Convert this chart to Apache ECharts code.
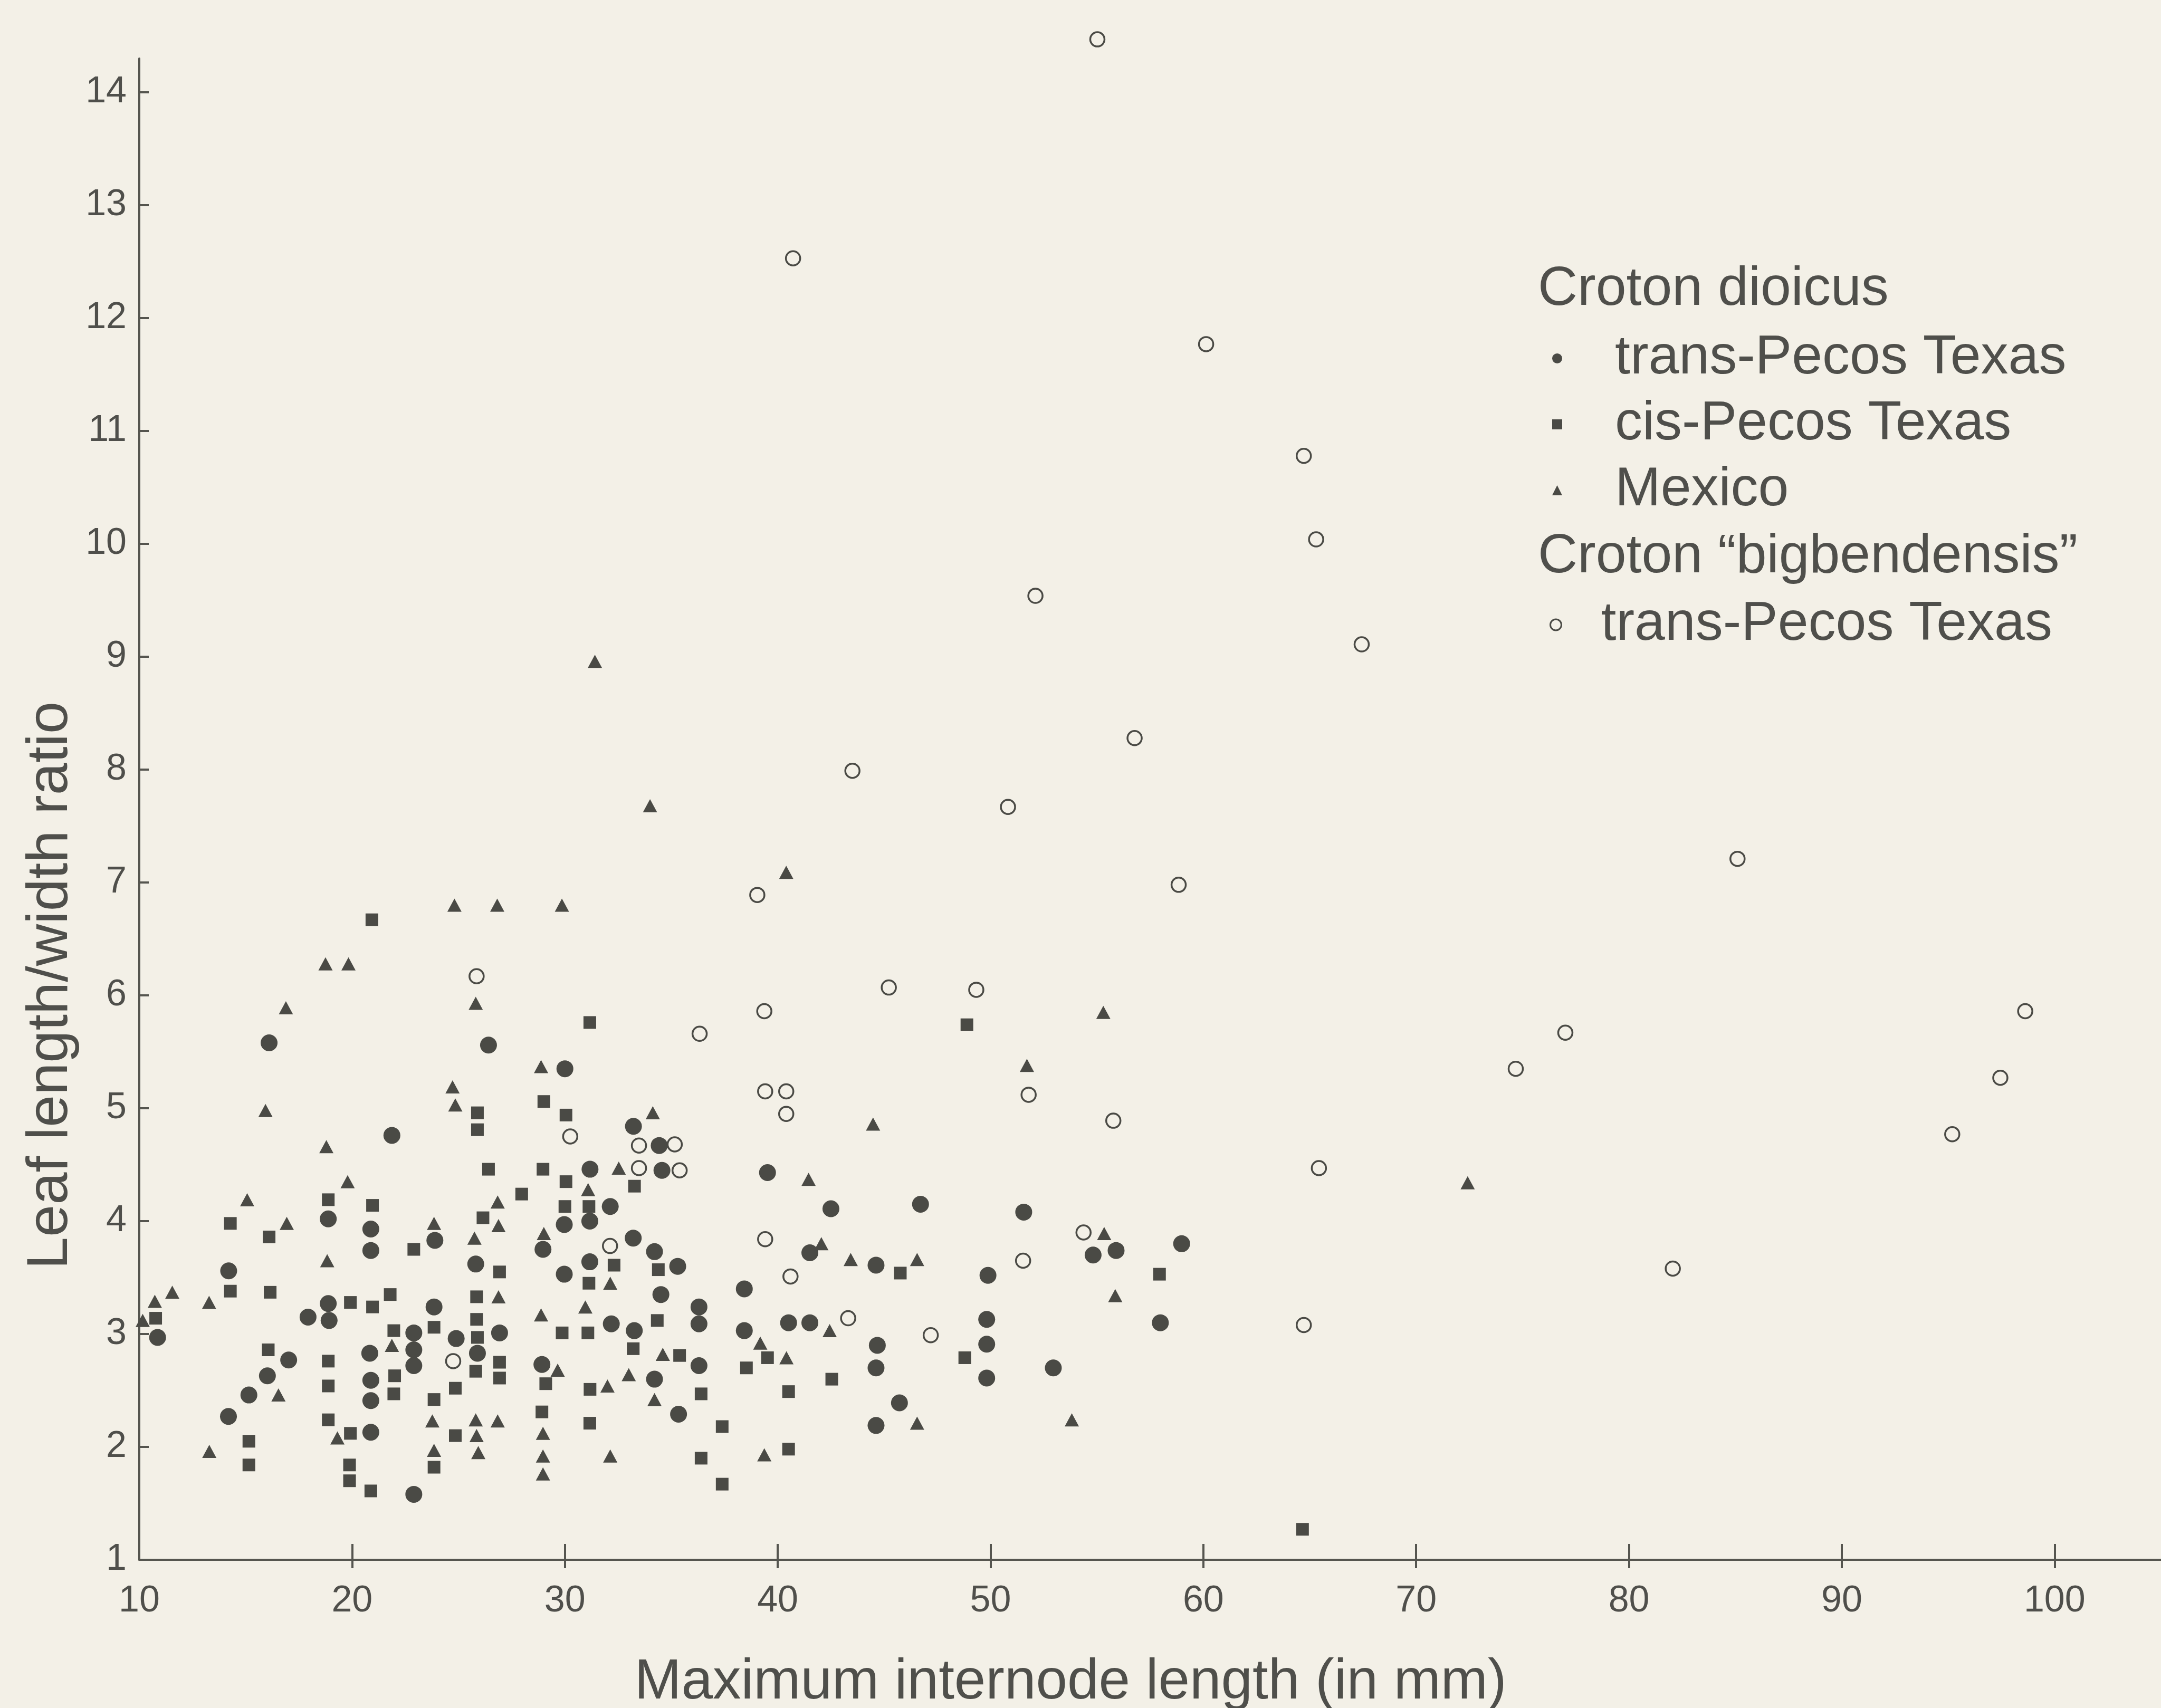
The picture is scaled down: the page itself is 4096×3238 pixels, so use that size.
<!DOCTYPE html>
<html><head><meta charset="utf-8">
<script src="https://cdn.jsdelivr.net/npm/echarts@6/dist/echarts.min.js"></script>
<style>html,body{margin:0;padding:0;background:#f3f0e7;}#c{width:4096px;height:3238px;}</style>
</head><body><div id="c"></div>
<script>
// ---- data ----
const xTicks = [10, 20, 30, 40, 50, 60, 70, 80, 90, 100];
const yTicks = [1, 2, 3, 4, 5, 6, 7, 8, 9, 10, 11, 12, 13, 14];
const xTitle = 'Maximum internode length (in mm)';
const yTitle = 'Leaf length/width ratio';
const groupHeaders = ['Croton dioicus', 'Croton \u201Cbigbendensis\u201D'];
const seriesNames = ['trans-Pecos Texas', 'cis-Pecos Texas', 'Mexico', 'trans-Pecos Texas '];

const dioicusTransPecos = [
 [16.10,5.58],[21.87,4.76],[18.88,4.02],[20.88,3.93],[20.88,3.74],[14.20,3.56],[10.86,2.97],[18.88,3.27],[17.93,3.15],[18.92,3.12],[17.02,2.77],[16.02,2.63],[20.83,2.83],[15.15,2.46],[20.88,2.59],[20.88,2.41],[14.19,2.27],[20.88,2.13],
 [26.41,5.56],[30.00,5.35],[33.22,4.84],[34.43,4.67],[34.56,4.45],[31.18,4.46],[32.13,4.13],
 [23.89,3.83],[28.97,3.75],[29.97,3.97],[31.17,4.00],[33.21,3.85],[34.21,3.73],[35.30,3.60],[31.17,3.64],[29.97,3.53],[25.81,3.62],[34.51,3.35],[23.85,3.24],[36.30,3.24],[36.30,3.09],[32.18,3.09],[26.93,3.01],[33.26,3.03],[22.90,3.01],[24.89,2.96],[22.90,2.86],[22.90,2.72],[25.89,2.83],[28.92,2.73],[36.30,2.72],[34.21,2.60],[35.34,2.29],[22.90,1.58],
 [41.51,3.72],[44.62,3.61],[38.43,3.40],[49.88,3.52],[40.51,3.10],[41.51,3.10],[38.43,3.03],[44.68,2.90],[44.62,2.70],[49.82,3.13],[49.82,2.91],[49.82,2.61],[45.72,2.39],[44.62,2.19],
 [39.52,4.43],[42.50,4.11],[46.71,4.15],[51.56,4.08],
 [58.98,3.80],[54.82,3.70],[55.90,3.74],[57.98,3.10],[52.95,2.70]
];
const dioicusCisPecos = [
 [18.88,4.19],[20.96,4.14],[14.28,3.98],[16.10,3.86],[22.90,3.75],[14.28,3.38],[16.15,3.37],[10.77,3.14],[19.92,3.28],[20.96,3.24],[21.79,3.35],[21.96,3.03],[16.06,2.86],[18.88,2.76],[18.88,2.54],[22.00,2.63],[21.96,2.47],[18.88,2.24],[19.92,2.12],[15.15,2.05],[15.15,1.84],[19.88,1.84],[19.88,1.70],[20.88,1.61],
 [31.17,5.76],[25.89,4.96],[25.89,4.81],[29.01,5.06],[30.05,4.94],[33.27,4.31],[26.41,4.46],[28.97,4.46],[30.05,4.35],[27.97,4.24],[30.00,4.13],[31.13,4.13],[26.15,4.03],
 [34.39,3.57],[32.31,3.61],[26.93,3.55],[31.13,3.45],[25.85,3.33],[25.85,3.13],[23.85,3.06],[34.34,3.12],[29.87,3.01],[31.08,3.01],[25.89,2.97],[26.93,2.75],[25.81,2.67],[26.93,2.61],[29.10,2.56],[33.21,2.87],[35.39,2.81],[31.18,2.51],[24.85,2.52],[23.85,2.42],[28.92,2.31],[31.17,2.21],[36.40,2.47],[24.85,2.10],[23.85,1.82],[36.40,1.90],
 [45.76,3.54],[39.52,2.79],[38.53,2.70],[42.54,2.60],[40.51,2.49],[48.79,2.79],[37.39,2.18],[40.51,1.98],[37.39,1.67],
 [48.89,5.74],[57.94,3.53],[20.93,6.67],[64.66,1.27]
];
const dioicusMexico = [
 [31.41,8.96],[34.00,7.68],[40.40,7.09],[24.81,6.80],[26.82,6.80],[29.86,6.80],
 [18.75,6.28],[19.83,6.28],[16.89,5.89],[15.93,4.98],[18.79,4.66],[19.79,4.35],[15.07,4.19],
 [16.93,3.98],[18.83,3.65],[11.55,3.37],[10.73,3.29],[13.28,3.28],[10.16,3.12],[21.87,2.90],[16.54,2.46],[19.31,2.08],[13.29,1.96],
 [25.81,5.93],[28.88,5.37],[24.72,5.19],[24.85,5.03],[34.13,4.96],[32.53,4.47],[31.09,4.28],[26.84,4.17],
 [23.85,3.98],[26.88,3.96],[25.75,3.85],[29.01,3.89],[32.13,3.45],[26.88,3.33],[30.96,3.24],[28.88,3.17],[29.66,2.68],[34.60,2.82],[33.00,2.64],[32.00,2.54],[34.21,2.42],[23.77,2.23],[25.81,2.24],[26.84,2.23],[25.85,2.10],[28.97,2.12],[23.85,1.97],[25.93,1.95],[28.97,1.92],[28.97,1.76],[32.13,1.92],
 [42.05,3.80],[43.43,3.66],[46.55,3.66],[42.44,3.03],[39.18,2.92],[40.41,2.79],[46.55,2.21],[39.37,1.93],
 [51.71,5.38],[44.48,4.86],[41.45,4.37],
 [55.30,5.85],[55.34,3.89],[55.86,3.34],[53.82,2.24],
 [72.42,4.34]
];
const bigbendensisTransPecos = [
 [55.02,14.47],[40.72,12.53],[60.13,11.77],[64.72,10.78],[65.30,10.04],[52.11,9.54],[67.44,9.11],[56.77,8.28],[43.51,7.99],[50.82,7.67],
 [85.10,7.21],[58.84,6.98],[39.04,6.89],[25.85,6.17],[45.22,6.07],[49.33,6.05],[39.37,5.86],[36.33,5.66],[98.62,5.86],[77.01,5.67],
 [97.45,5.27],[74.68,5.35],[51.79,5.12],[39.41,5.15],[40.40,5.15],[40.40,4.95],[55.77,4.89],[95.19,4.77],[30.25,4.75],[65.43,4.47],
 [33.48,4.67],[35.16,4.68],[33.48,4.47],[35.39,4.45],[54.37,3.90],[39.41,3.84],[32.12,3.78],[51.53,3.65],[40.60,3.51],[82.06,3.58],
 [43.31,3.14],[64.72,3.08],[47.19,2.99],[24.75,2.76]
];

// ---- style ----
const BG = '#f3f0e7', TXT = '#4f4f4b', MK = '#4a4a45', AX = '#55554f';
const tickFont = '"Liberation Sans Narrow","Arial Narrow","Liberation Sans",Arial,sans-serif';
const font = '"Liberation Sans",Arial,Helvetica,sans-serif';

const chart = echarts.init(document.getElementById('c'), null, {renderer: 'canvas'});
const option = {
  backgroundColor: BG,
  animation: false,
  grid: {left: 264, right: 0, top: 111, bottom: 281, containLabel: false, outerBoundsMode: 'none'},
  xAxis: [{
    type: 'value', min: 10, max: 105,
    axisLine: {show: true, lineStyle: {color: AX, width: 4}},
    axisTick: {show: true, inside: true, length: 30, lineStyle: {color: AX, width: 4}, customValues: xTicks.slice(1)},
    axisLabel: {show: true, customValues: xTicks, margin: 44, fontSize: 70, color: TXT, fontFamily: tickFont,
      formatter: v => (xTicks.indexOf(v) >= 0 ? String(v) : '')},
    splitLine: {show: false},
    name: xTitle, nameLocation: 'middle', nameGap: 180,
    nameTextStyle: {fontSize: 107, color: TXT, fontFamily: font, padding: [0, 302, 0, 0]}
  }, {
    type: 'value', min: 10, max: 105, position: 'bottom',
    axisLine: {show: false},
    axisTick: {show: true, inside: false, length: 16, lineStyle: {color: AX, width: 4}, customValues: xTicks.slice(1)},
    axisLabel: {show: false}, splitLine: {show: false}
  }],
  yAxis: {
    type: 'value', min: 1, max: 14.3,
    axisLine: {show: true, lineStyle: {color: AX, width: 4}},
    axisTick: {show: true, inside: true, length: 18, lineStyle: {color: AX, width: 4}, customValues: yTicks},
    axisLabel: {show: true, customValues: yTicks, margin: 24, fontSize: 70, color: TXT, fontFamily: tickFont,
      formatter: v => (yTicks.indexOf(v) >= 0 ? String(v) : '')},
    splitLine: {show: false},
    name: yTitle, nameLocation: 'middle', nameGap: 100,
    nameTextStyle: {fontSize: 110, color: TXT, fontFamily: font, padding: [0, 668, 0, 0]}
  },
  legend: [{
    data: seriesNames.slice(0, 3), orient: 'vertical', left: 2942, top: 617,
    itemWidth: 19, itemHeight: 19, itemGap: 0, padding: 0, selectedMode: false,
    itemStyle: {borderWidth: 0},
    formatter: n => n.trim(),
    textStyle: {fontSize: 104, lineHeight: 125, color: TXT, fontFamily: font, padding: [0, 0, 0, 95]}
  }, {
    data: [seriesNames[3]], orient: 'vertical', left: 2937, top: 1122,
    itemWidth: 21, itemHeight: 21, itemGap: 0, padding: 0, selectedMode: false,
    itemStyle: {borderWidth: 3},
    formatter: n => n.trim(),
    textStyle: {fontSize: 104, lineHeight: 125, color: TXT, fontFamily: font, padding: [0, 0, 0, 70]}
  }],
  graphic: [
    {type: 'text', x: 2915, y: 549, style: {text: groupHeaders[0], fontSize: 104, fontFamily: font, fill: TXT, verticalAlign: 'middle', align: 'left'}},
    {type: 'text', x: 2915, y: 1056, style: {text: groupHeaders[1], fontSize: 104, fontFamily: font, fill: TXT, verticalAlign: 'middle', align: 'left'}}
  ],
  series: [
    {name: seriesNames[0], type: 'scatter', data: dioicusTransPecos, symbol: 'circle', symbolSize: 32, clip: false,
     itemStyle: {color: MK, opacity: 1}},
    {name: seriesNames[1], type: 'scatter', data: dioicusCisPecos, symbol: 'rect', symbolSize: 24, clip: false,
     itemStyle: {color: MK, opacity: 1}},
    {name: seriesNames[2], type: 'scatter', data: dioicusMexico, symbol: 'triangle', symbolSize: [27, 25], clip: false,
     itemStyle: {color: MK, opacity: 1}},
    {name: seriesNames[3], type: 'scatter', data: bigbendensisTransPecos, symbol: 'circle', symbolSize: 27, clip: false,
     itemStyle: {color: BG, borderColor: MK, borderWidth: 3.5, opacity: 1}}
  ]
};
chart.setOption(option);
</script>
</body></html>
